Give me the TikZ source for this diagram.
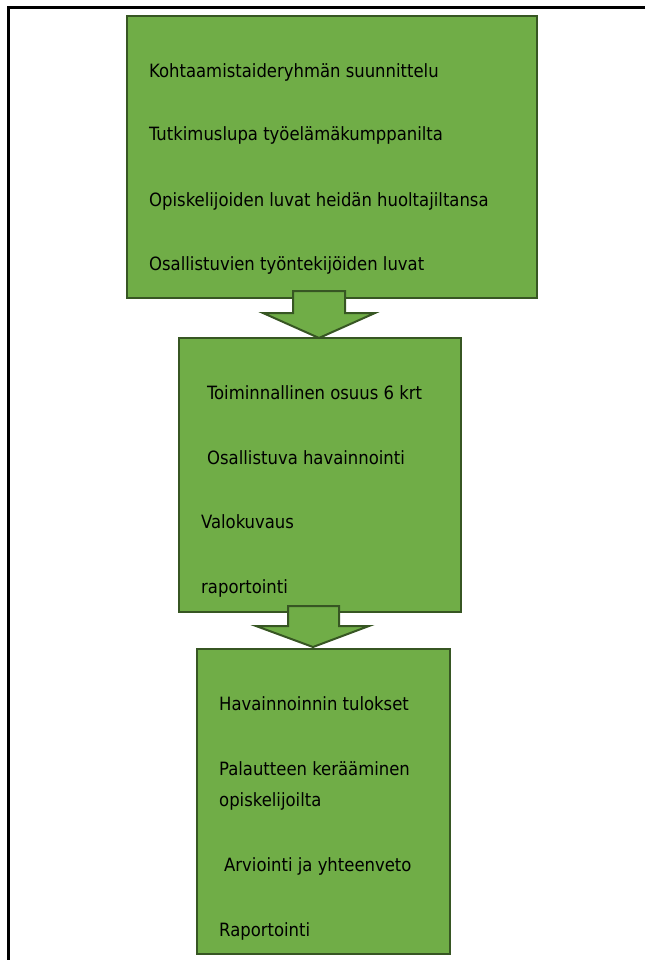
\documentclass[tikz,border=0pt]{standalone}
\usepackage{fontspec}
\setmainfont{DejaVu Sans Condensed}
\definecolor{boxfill}{HTML}{70AD47}
\definecolor{boxline}{HTML}{375623}
\tikzset{
  stagebox/.style={draw=boxline, fill=boxfill, line width=2.6pt},
  blockarrow/.style={draw=boxline, fill=boxfill, line width=2pt, line join=miter},
  item/.style={anchor=base west, inner sep=0pt, font=\fontsize{18.3}{21}\selectfont, text=black},
  frameline/.style={line width=3pt, black}
}
\begin{document}
\begin{tikzpicture}[x=1pt,y=-1pt]
\useasboundingbox (0,0) rectangle (645,960);
% frame
\coordinate (fa) at (645,8);
\coordinate (fb) at (8,8);
\coordinate (fc) at (8,960);
\draw[frameline] (fa) -- (fb) -- (fc);
% boxes
\path[stagebox] (127,16) rectangle (537,298);
\path[stagebox] (179,338) rectangle (461,612);
\path[stagebox] (197,649) rectangle (450,954);
% arrows
\path[blockarrow] (293,291) -- (345,291) -- (345,313) -- (375,313) -- (319,338) -- (263,313) -- (293,313) -- cycle;
\path[blockarrow] (288,606) -- (339,606) -- (339,626) -- (369,626) -- (313,647) -- (256,626) -- (288,626) -- cycle;
% box 1 texts
\node[item] (t11) at (149,78) {Kohtaamistaideryhmän suunnittelu};
\node[item] (t12) at (149,141) {Tutkimuslupa työelämäkumppanilta};
\node[item] (t13) at (149,206) {Opiskelijoiden luvat heidän huoltajiltansa};
\node[item] (t14) at (149,270) {Osallistuvien työntekijöiden luvat};
% box 2 texts
\node[item] (t21) at (207,399) {Toiminnallinen osuus 6 krt};
\node[item] (t22) at (207,464) {Osallistuva havainnointi};
\node[item] (t23) at (201,528) {Valokuvaus};
\node[item] (t24) at (201,593) {raportointi};
% box 3 texts
\node[item] (t31) at (219,710) {Havainnoinnin tulokset};
\node[item] (t32) at (219,775) {Palautteen kerääminen};
\node[item] (t33) at (219,806) {opiskelijoilta};
\node[item] (t34) at (224,871) {Arviointi ja yhteenveto};
\node[item] (t35) at (219,936) {Raportointi};
\end{tikzpicture}
\end{document}
